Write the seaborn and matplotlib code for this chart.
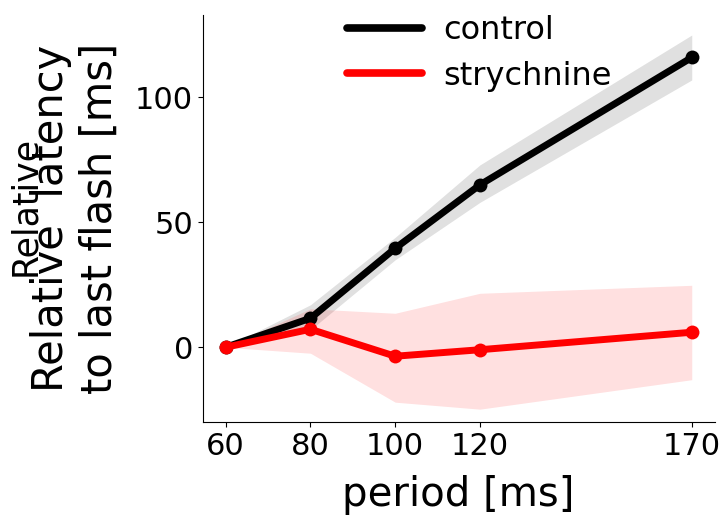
import numpy as np
import pandas as pd
import seaborn as sns
import matplotlib.pyplot as plt

# data
period = [60, 80, 100, 120, 170]
control = [0, 11.6, 39.6, 65, 116]
control_lo = [0, 7, 35, 58, 107]
control_hi = [0, 17, 44, 73, 125]
strych = [0, 7.2, -3.6, -1, 6]
strych_lo = [0, -2.4, -22, -24.8, -13]
strych_hi = [0, 15.4, 13.6, 21.6, 24.8]

sns.set_style("ticks", {'text.color': 'black', 'axes.labelcolor': 'black',
                        'xtick.color': 'black', 'ytick.color': 'black',
                        'axes.edgecolor': 'black'})
plt.rcParams['font.family'] = ['DejaVu Sans']

df = pd.DataFrame({
    'period': period * 2,
    'latency': control + strych,
    'cond': ['control'] * 5 + ['strychnine'] * 5,
})

fig = plt.figure(figsize=(7.27, 5.18), dpi=100)
ax = fig.add_axes([0.279, 0.185, 0.704, 0.786])

ax.fill_between(period, control_lo, control_hi, color='black', alpha=0.12, lw=0)
ax.fill_between(period, strych_lo, strych_hi, color='red', alpha=0.12, lw=0)
sns.lineplot(data=df, x='period', y='latency', hue='cond',
             palette={'control': 'black', 'strychnine': 'red'},
             lw=5, marker='o', markersize=10, markeredgewidth=0, ax=ax)

ax.set_xlim(54.6, 175.4)
ax.set_ylim(-30, 133)
ax.set_xticks(period)
ax.set_yticks([0, 50, 100])
ax.tick_params(labelsize=22)
sns.despine(ax=ax)

ax.set_xlabel('period [ms]', fontsize=29, labelpad=10)
ax.set_ylabel('Relative  latency\nto last flash [ms]', fontsize=30, labelpad=10)
fig.text(0.048, 0.602, 'Relative', rotation=90, rotation_mode='anchor',
         fontsize=25, ha='center', va='baseline')

leg = ax.legend(loc='upper center', bbox_to_anchor=(0.54, 1.07), frameon=False,
                fontsize=23, handlelength=2.35, handletextpad=0.65, labelspacing=0.45)
for line in leg.get_lines():
    line.set_linewidth(5.5)
    line.set_marker('')

plt.savefig('out.png', dpi=100)
